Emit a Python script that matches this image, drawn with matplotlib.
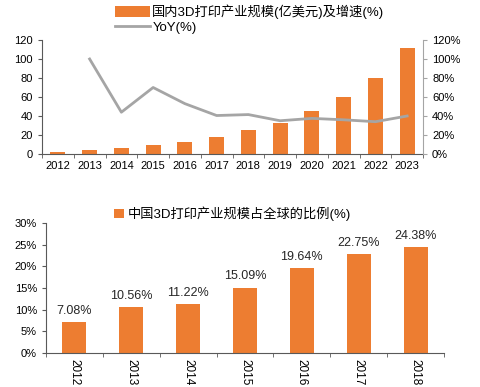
import matplotlib.pyplot as plt
import numpy as np

plt.rcParams['font.family'] = ['Liberation Sans', 'Noto Sans CJK SC', 'DejaVu Sans']

years_top = ['2012', '2013', '2014', '2015', '2016', '2017', '2018', '2019', '2020', '2021', '2022', '2023']
market_size = [2.5, 4.5, 6.0, 9.3, 13.0, 18.0, 25.0, 33.0, 45.0, 60.5, 80.5, 112.0]
yoy = [np.nan, 100, 44, 70, 53, 40.5, 41.5, 35, 37.5, 36, 34, 40]

years_bot = ['2012', '2013', '2014', '2015', '2016', '2017', '2018']
share = [7.08, 10.56, 11.22, 15.09, 19.64, 22.75, 24.38]

ORANGE = '#ED7D31'
GRAY = '#A5A5A5'
SPINE = '#595959'

fig = plt.figure(figsize=(4.8, 3.87), dpi=100)

# top chart
ax = fig.add_axes([42/480, 1-154/387, (423-42)/480, (154-40)/387])
x = np.arange(len(years_top))
ax.bar(x, market_size, width=0.47, color=ORANGE, label='国内3D打印产业规模(亿美元)及增速(%)')
ax.set_ylim(0, 120); ax.set_yticks(range(0, 121, 20))
ax.set_xlim(-0.5, len(years_top)-0.5)
ax.set_xticks(x); ax.set_xticklabels(years_top)
ax.set_xticks(np.arange(-0.5, len(years_top)), minor=True)
ax.tick_params(axis='x', which='major', length=0, labelsize=8, pad=5)
ax.tick_params(axis='x', which='minor', length=3, color=SPINE)
ax.tick_params(axis='y', length=3, labelsize=8, color=SPINE)
for s in ['top', 'right']: ax.spines[s].set_visible(False)
for s in ['left', 'bottom']: ax.spines[s].set_color(SPINE)
ax2 = ax.twinx()
ax2.plot(x, yoy, color=GRAY, lw=2, label='YoY(%)')
ax2.set_ylim(0, 120); ax2.set_yticks(range(0, 121, 20))
ax2.set_yticklabels([f'{v}%' for v in range(0, 121, 20)])
ax2.tick_params(axis='y', length=3, labelsize=8, color=GRAY)
for s in ['top', 'left', 'bottom']: ax2.spines[s].set_visible(False)
ax2.spines['right'].set_color(GRAY)
h1, l1 = ax.get_legend_handles_labels(); h2, l2 = ax2.get_legend_handles_labels()
fig.legend(h1+h2, l1+l2, loc='upper left', bbox_to_anchor=(114/480, 1-3/387), frameon=False,
           fontsize=9.5, handlelength=2.6, handleheight=0.9, labelspacing=0.15, handletextpad=0.2,
           borderaxespad=0, borderpad=0.1)

# bottom chart
bx = fig.add_axes([46/480, 1-353/387, (444-46)/480, (353-223)/387])
xb = np.arange(len(years_bot))
bx.bar(xb, share, width=0.42, color=ORANGE, label='中国3D打印产业规模占全球的比例(%)')
for xi, v in zip(xb, share):
    bx.text(xi, v+1.2, f'{v:.2f}%', ha='center', va='bottom', fontsize=9, color='#262626')
bx.set_ylim(0, 30); bx.set_yticks(range(0, 31, 5))
bx.set_yticklabels([f'{v}%' for v in range(0, 31, 5)])
bx.set_xlim(-0.5, len(years_bot)-0.5)
bx.set_xticks(xb); bx.set_xticklabels(years_bot, rotation=270, va='top', ha='center')
bx.set_xticks(np.arange(-0.5, len(years_bot)), minor=True)
bx.tick_params(axis='x', which='major', length=0, labelsize=8.5, pad=4)
bx.tick_params(axis='x', which='minor', length=3, color=SPINE)
bx.tick_params(axis='y', length=3, labelsize=8, color=SPINE)
for s in ['top', 'right']: bx.spines[s].set_visible(False)
for s in ['left', 'bottom']: bx.spines[s].set_color(SPINE)
bx.legend(loc='upper left', bbox_to_anchor=(113/480, 1-205/387), bbox_transform=fig.transFigure,
          frameon=False, fontsize=9.5, handlelength=0.7, handleheight=0.7, handletextpad=0.3,
          borderaxespad=0, borderpad=0.1)

fig.savefig('out.png', dpi=100)
